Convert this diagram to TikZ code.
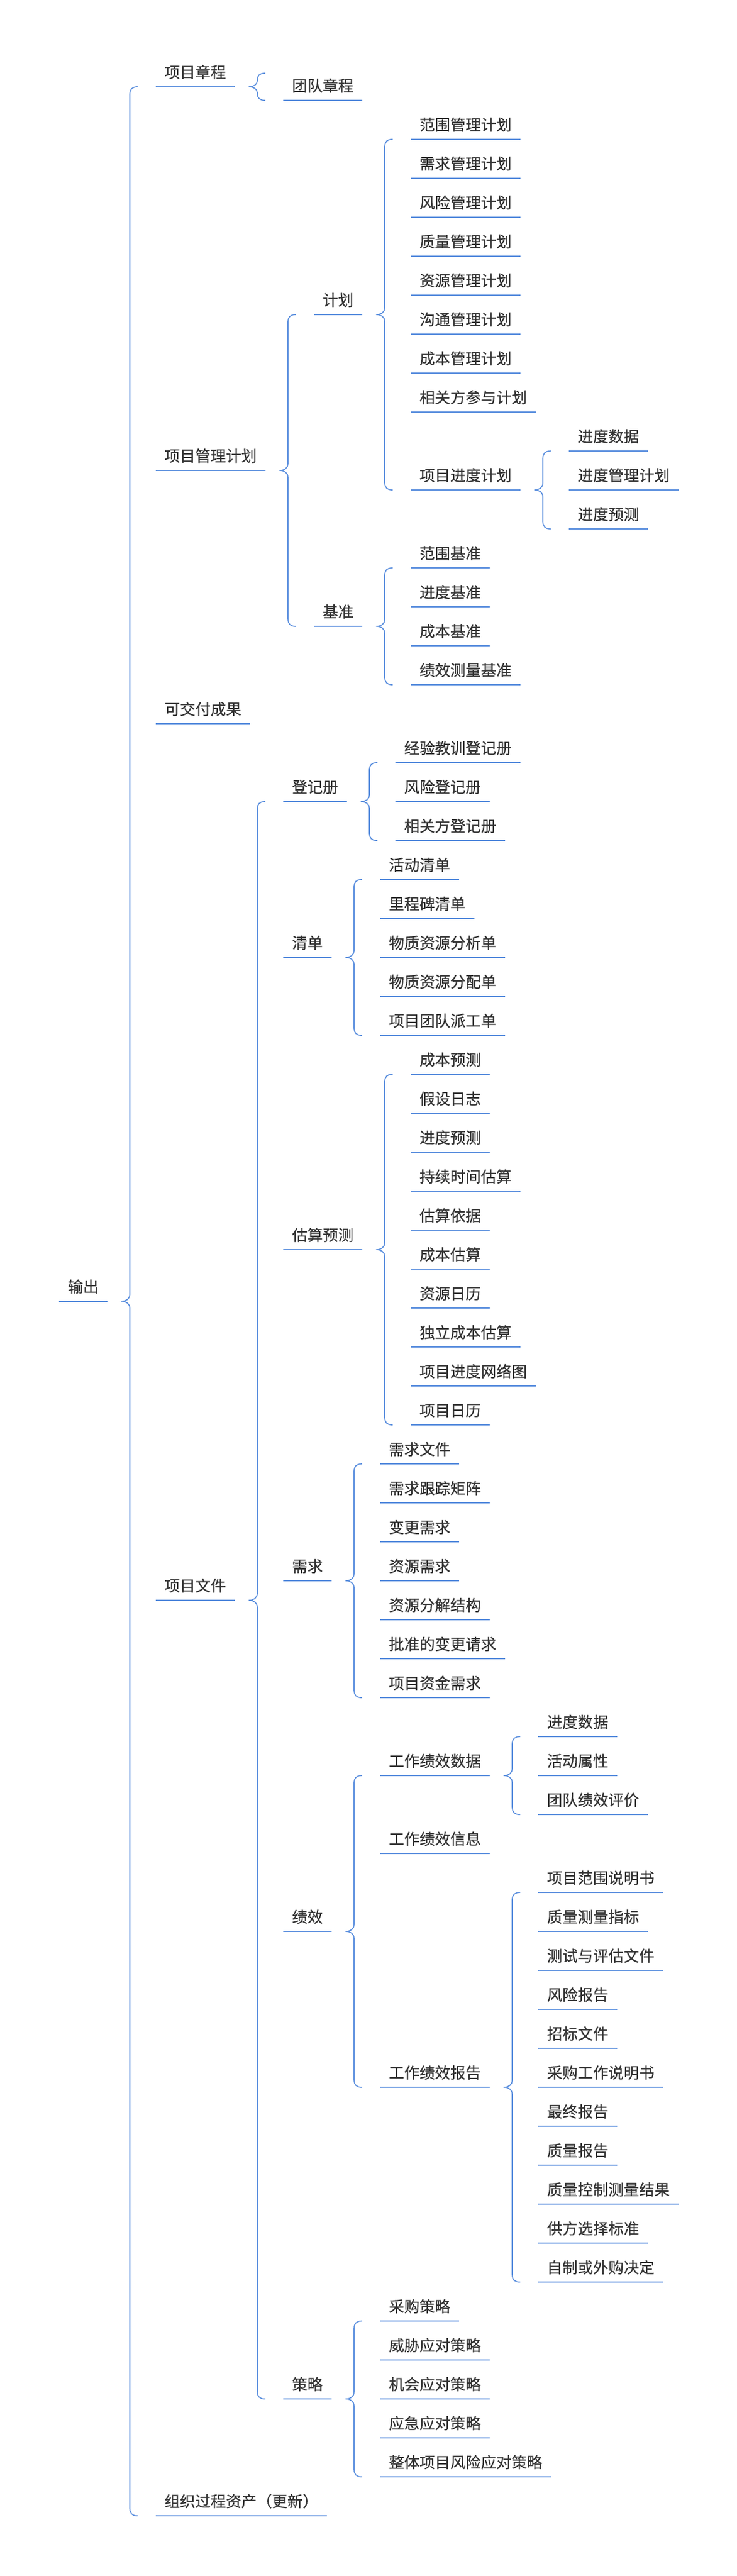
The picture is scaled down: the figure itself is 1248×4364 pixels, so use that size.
\documentclass[tikz,border=0pt]{standalone}
\usepackage{fontspec}
\newfontfamily\cjk[FakeBold=0.35]{Noto Sans CJK SC}
\usetikzlibrary{calc}
\definecolor{lineblue}{HTML}{5B8FDE}
\definecolor{txt}{HTML}{333333}
\tikzset{
  itm/.style={anchor=south west, font=\cjk\fontsize{26pt}{30pt}\selectfont, text=txt,
    inner xsep=15pt, inner ysep=15pt, text depth=0pt, outer sep=0pt},
  uline/.style={draw=lineblue, line width=2pt},
  bline/.style={draw=lineblue, line width=1.7pt, line join=round, line cap=round},
}
\newcommand\mybrace[3]{%
  \draw[bline] let \p1=(#1.south east), \p2=(#2.south west), \p3=(#3.south west) in
    (\x1+51pt,\y2) .. controls (\x1+42pt,\y2) and (\x1+38pt,\y2-4pt) .. (\x1+38pt,\y2-13pt)
    -- (\x1+38pt,\y1+12pt) .. controls (\x1+38pt,\y1+4pt) and (\x1+32pt,\y1) .. (\x1+24pt,\y1)
    .. controls (\x1+32pt,\y1) and (\x1+38pt,\y1-4pt) .. (\x1+38pt,\y1-12pt)
    -- (\x1+38pt,\y3+13pt) .. controls (\x1+38pt,\y3+4pt) and (\x1+42pt,\y3) .. (\x1+51pt,\y3);}
\newcommand\onebrace[2]{%
  \draw[bline] let \p1=(#1.south east), \p2=(#2.south west), \n1={2*\y1-\y2} in
    (\x1+51pt,\n1) .. controls (\x1+42pt,\n1) and (\x1+38pt,\n1-4pt) .. (\x1+38pt,\n1-12pt)
    -- (\x1+38pt,\y1+10pt) .. controls (\x1+38pt,\y1+4pt) and (\x1+32pt,\y1) .. (\x1+24pt,\y1)
    .. controls (\x1+32pt,\y1) and (\x1+38pt,\y1-4pt) .. (\x1+38pt,\y1-10pt)
    -- (\x1+38pt,\y2+12pt) .. controls (\x1+38pt,\y2+4pt) and (\x1+42pt,\y2) .. (\x1+51pt,\y2);}
\begin{document}
\begin{tikzpicture}[x=1pt,y=-1pt]
\useasboundingbox[fill=white] (0,0) rectangle (1248,4364);
% root
\node[itm] (out) at (100,2204.5) {输出};
% level 1
\node[itm] (zc)   at (264,147) {项目章程};
\node[itm] (pmp)  at (264,{236+66*8.5}) {项目管理计划};
\node[itm] (jfcg) at (264,{236+66*15}) {可交付成果};
\node[itm] (xmwj) at (264,{236+66*37.5}) {项目文件};
\node[itm] (zzgc) at (264,{236+66*61}) {组织过程资产（更新）};
% level 2
\node[itm] (tdzc) at (480,170) {团队章程};
\node[itm] (jh)   at (532,{236+66*4.5}) {计划};
\node[itm] (jz)   at (532,{236+66*12.5}) {基准};
\node[itm] (djc)  at (480,{236+66*17}) {登记册};
\node[itm] (qd)   at (480,{236+66*21}) {清单};
\node[itm] (gsyc) at (480,{236+66*28.5}) {估算预测};
\node[itm] (xq)   at (480,{236+66*37}) {需求};
\node[itm] (jx)   at (480,{236+66*46}) {绩效};
\node[itm] (cl)   at (480,{236+66*58}) {策略};
% 计划
\node[itm] (a0) at (696,{236+66*0}) {范围管理计划};
\node[itm] (a1) at (696,{236+66*1}) {需求管理计划};
\node[itm] (a2) at (696,{236+66*2}) {风险管理计划};
\node[itm] (a3) at (696,{236+66*3}) {质量管理计划};
\node[itm] (a4) at (696,{236+66*4}) {资源管理计划};
\node[itm] (a5) at (696,{236+66*5}) {沟通管理计划};
\node[itm] (a6) at (696,{236+66*6}) {成本管理计划};
\node[itm] (a7) at (696,{236+66*7}) {相关方参与计划};
\node[itm] (a8) at (696,{236+66*9}) {项目进度计划};
% 项目进度计划
\node[itm] (b0) at (964,{236+66*8}) {进度数据};
\node[itm] (b1) at (964,{236+66*9}) {进度管理计划};
\node[itm] (b2) at (964,{236+66*10}) {进度预测};
% 基准
\node[itm] (c0) at (696,{236+66*11}) {范围基准};
\node[itm] (c1) at (696,{236+66*12}) {进度基准};
\node[itm] (c2) at (696,{236+66*13}) {成本基准};
\node[itm] (c3) at (696,{236+66*14}) {绩效测量基准};
% 登记册
\node[itm] (d0) at (670,{236+66*16}) {经验教训登记册};
\node[itm] (d1) at (670,{236+66*17}) {风险登记册};
\node[itm] (d2) at (670,{236+66*18}) {相关方登记册};
% 清单
\node[itm] (e0) at (644,{236+66*19}) {活动清单};
\node[itm] (e1) at (644,{236+66*20}) {里程碑清单};
\node[itm] (e2) at (644,{236+66*21}) {物质资源分析单};
\node[itm] (e3) at (644,{236+66*22}) {物质资源分配单};
\node[itm] (e4) at (644,{236+66*23}) {项目团队派工单};
% 估算预测
\node[itm] (f0) at (696,{236+66*24}) {成本预测};
\node[itm] (f1) at (696,{236+66*25}) {假设日志};
\node[itm] (f2) at (696,{236+66*26}) {进度预测};
\node[itm] (f3) at (696,{236+66*27}) {持续时间估算};
\node[itm] (f4) at (696,{236+66*28}) {估算依据};
\node[itm] (f5) at (696,{236+66*29}) {成本估算};
\node[itm] (f6) at (696,{236+66*30}) {资源日历};
\node[itm] (f7) at (696,{236+66*31}) {独立成本估算};
\node[itm] (f8) at (696,{236+66*32}) {项目进度网络图};
\node[itm] (f9) at (696,{236+66*33}) {项目日历};
% 需求
\node[itm] (g0) at (644,{236+66*34}) {需求文件};
\node[itm] (g1) at (644,{236+66*35}) {需求跟踪矩阵};
\node[itm] (g2) at (644,{236+66*36}) {变更需求};
\node[itm] (g3) at (644,{236+66*37}) {资源需求};
\node[itm] (g4) at (644,{236+66*38}) {资源分解结构};
\node[itm] (g5) at (644,{236+66*39}) {批准的变更请求};
\node[itm] (g6) at (644,{236+66*40}) {项目资金需求};
% 绩效
\node[itm] (h0) at (644,{236+66*42}) {工作绩效数据};
\node[itm] (h1) at (644,{236+66*44}) {工作绩效信息};
\node[itm] (h2) at (644,{236+66*50}) {工作绩效报告};
\node[itm] (i0) at (912,{236+66*41}) {进度数据};
\node[itm] (i1) at (912,{236+66*42}) {活动属性};
\node[itm] (i2) at (912,{236+66*43}) {团队绩效评价};
\node[itm] (j0) at (912,{236+66*45}) {项目范围说明书};
\node[itm] (j1) at (912,{236+66*46}) {质量测量指标};
\node[itm] (j2) at (912,{236+66*47}) {测试与评估文件};
\node[itm] (j3) at (912,{236+66*48}) {风险报告};
\node[itm] (j4) at (912,{236+66*49}) {招标文件};
\node[itm] (j5) at (912,{236+66*50}) {采购工作说明书};
\node[itm] (j6) at (912,{236+66*51}) {最终报告};
\node[itm] (j7) at (912,{236+66*52}) {质量报告};
\node[itm] (j8) at (912,{236+66*53}) {质量控制测量结果};
\node[itm] (j9) at (912,{236+66*54}) {供方选择标准};
\node[itm] (j10) at (912,{236+66*55}) {自制或外购决定};
% 策略
\node[itm] (k0) at (644,{236+66*56}) {采购策略};
\node[itm] (k1) at (644,{236+66*57}) {威胁应对策略};
\node[itm] (k2) at (644,{236+66*58}) {机会应对策略};
\node[itm] (k3) at (644,{236+66*59}) {应急应对策略};
\node[itm] (k4) at (644,{236+66*60}) {整体项目风险应对策略};
% underlines
\foreach \n in {out,zc,pmp,jfcg,xmwj,zzgc,tdzc,jh,jz,djc,qd,gsyc,xq,jx,cl,
  a0,a1,a2,a3,a4,a5,a6,a7,a8,b0,b1,b2,c0,c1,c2,c3,d0,d1,d2,e0,e1,e2,e3,e4,
  f0,f1,f2,f3,f4,f5,f6,f7,f8,f9,g0,g1,g2,g3,g4,g5,g6,h0,h1,h2,i0,i1,i2,
  j0,j1,j2,j3,j4,j5,j6,j7,j8,j9,j10,k0,k1,k2,k3,k4}
  \draw[uline] (\n.south west) -- (\n.south east);
% braces
\mybrace{out}{zc}{zzgc}
\onebrace{zc}{tdzc}
\mybrace{pmp}{jh}{jz}
\mybrace{jh}{a0}{a8}
\mybrace{a8}{b0}{b2}
\mybrace{jz}{c0}{c3}
\mybrace{xmwj}{djc}{cl}
\mybrace{djc}{d0}{d2}
\mybrace{qd}{e0}{e4}
\mybrace{gsyc}{f0}{f9}
\mybrace{xq}{g0}{g6}
\mybrace{jx}{h0}{h2}
\mybrace{h0}{i0}{i2}
\mybrace{h2}{j0}{j10}
\mybrace{cl}{k0}{k4}
\end{tikzpicture}
\end{document}
